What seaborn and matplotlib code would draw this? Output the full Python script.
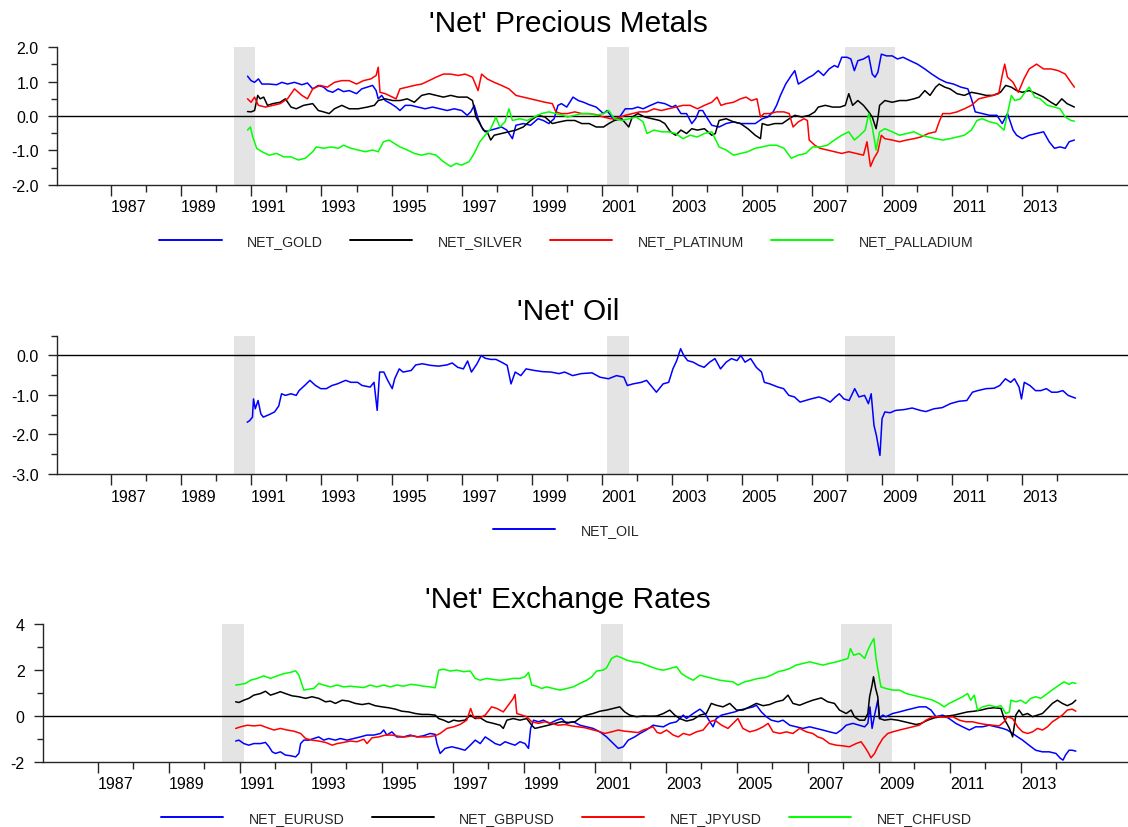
import matplotlib
matplotlib.use("Agg")
import matplotlib.pyplot as plt
import pandas as pd
import seaborn as sns
from matplotlib.ticker import FixedLocator, FormatStrFormatter, NullFormatter

# ---------------- data ----------------
GOLD_YR = [1990.89, 1990.99, 1991.09, 1991.20, 1991.30, 1991.51, 1991.72, 1991.87, 1992.03, 1992.23,
           1992.44, 1992.60, 1992.75, 1992.91, 1993.06, 1993.17, 1993.32, 1993.48, 1993.63, 1993.79,
           1994.00, 1994.15, 1994.31, 1994.46, 1994.56, 1994.62, 1994.72, 1994.82, 1994.98, 1995.13,
           1995.24, 1995.39, 1995.55, 1995.76, 1995.96, 1996.17, 1996.38, 1996.59, 1996.79, 1997.00,
           1997.16, 1997.26, 1997.36, 1997.47, 1997.57, 1997.67, 1997.83, 1997.98, 1998.14, 1998.29,
           1998.45, 1998.55, 1998.76, 1998.97, 1999.18, 1999.33, 1999.49, 1999.64, 1999.75, 1999.85,
           2000.00, 2000.18, 2000.33, 2000.48, 2000.64, 2000.84, 2001.05, 2001.15, 2001.36, 2001.51,
           2001.67, 2001.87, 2002.03, 2002.18, 2002.39, 2002.60, 2002.80, 2003.01, 2003.11, 2003.26,
           2003.42, 2003.57, 2003.68, 2003.78, 2003.88, 2003.99, 2004.14, 2004.35, 2004.55, 2004.76,
           2004.96, 2005.17, 2005.38, 2005.58, 2005.74, 2005.89, 2005.99, 2006.10, 2006.25, 2006.41,
           2006.51, 2006.61, 2006.77, 2006.92, 2007.02, 2007.18, 2007.33, 2007.49, 2007.64, 2007.74,
           2007.85, 2008.00, 2008.11, 2008.21, 2008.31, 2008.47, 2008.62, 2008.72, 2008.80, 2008.88,
           2008.98, 2009.13, 2009.29, 2009.44, 2009.60, 2009.80, 2010.01, 2010.22, 2010.42, 2010.63,
           2010.83, 2011.04, 2011.25, 2011.45, 2011.55, 2011.66, 2011.86, 2012.07, 2012.28, 2012.43,
           2012.58, 2012.74, 2012.84, 2013.00, 2013.20, 2013.41, 2013.61, 2013.77, 2013.92, 2014.08,
           2014.23, 2014.34, 2014.49]
GOLD_VAL = [1.16, 1.03, 0.98, 1.08, 0.93, 0.93, 0.91, 0.98, 0.93, 0.98,
            0.91, 0.96, 0.79, 0.89, 0.84, 0.74, 0.69, 0.79, 0.71, 0.74,
            0.65, 0.79, 0.84, 0.89, 0.74, 0.50, 0.60, 0.45, 0.36, 0.26,
            0.16, 0.31, 0.31, 0.26, 0.21, 0.26, 0.21, 0.16, 0.21, 0.16,
            0.02, 0.12, 0.31, -0.08, -0.32, -0.46, -0.41, -0.37, -0.32, -0.41,
            -0.66, -0.27, -0.22, -0.27, -0.08, -0.13, -0.22, -0.08, 0.31, 0.36,
            0.26, 0.55, 0.45, 0.40, 0.33, 0.26, 0.07, 0.16, -0.13, -0.03,
            0.21, 0.21, 0.26, 0.21, 0.31, 0.40, 0.36, 0.26, 0.31, 0.07,
            0.07, -0.22, -0.08, 0.16, 0.16, -0.03, -0.27, -0.32, -0.22, -0.17,
            -0.22, -0.22, -0.22, -0.08, -0.03, 0.12, 0.31, 0.60, 0.93, 1.18,
            1.32, 0.93, 1.03, 1.13, 1.18, 1.32, 1.18, 1.37, 1.47, 1.42,
            1.71, 1.71, 1.66, 1.32, 1.61, 1.66, 1.75, 1.22, 1.13, 1.27,
            1.80, 1.75, 1.75, 1.66, 1.71, 1.61, 1.51, 1.37, 1.22, 1.08,
            0.98, 0.93, 0.84, 0.79, 0.50, 0.12, 0.07, 0.02, 0.02, -0.22,
            0.07, -0.41, -0.56, -0.66, -0.56, -0.51, -0.46, -0.75, -0.94, -0.90,
            -0.94, -0.75, -0.70]

SILVER_YR = [1990.89, 1990.99, 1991.09, 1991.18, 1991.25, 1991.35, 1991.46, 1991.61, 1991.82, 1991.97,
             1992.13, 1992.28, 1992.49, 1992.75, 1992.91, 1993.06, 1993.22, 1993.37, 1993.58, 1993.79,
             1994.05, 1994.31, 1994.51, 1994.62, 1994.82, 1995.03, 1995.24, 1995.45, 1995.65, 1995.86,
             1996.07, 1996.27, 1996.48, 1996.69, 1996.90, 1997.16, 1997.31, 1997.41, 1997.52, 1997.62,
             1997.73, 1997.83, 1997.93, 1998.14, 1998.35, 1998.55, 1998.76, 1998.97, 1999.18, 1999.38,
             1999.59, 1999.80, 2000.00, 2000.23, 2000.43, 2000.64, 2000.84, 2001.05, 2001.20, 2001.36,
             2001.57, 2001.77, 2001.87, 2002.03, 2002.23, 2002.44, 2002.65, 2002.80, 2002.96, 2003.11,
             2003.26, 2003.42, 2003.57, 2003.73, 2003.93, 2004.14, 2004.24, 2004.35, 2004.55, 2004.76,
             2004.96, 2005.17, 2005.38, 2005.53, 2005.58, 2005.74, 2005.94, 2006.15, 2006.35, 2006.51,
             2006.71, 2006.92, 2007.08, 2007.18, 2007.38, 2007.59, 2007.80, 2007.95, 2008.05, 2008.16,
             2008.31, 2008.47, 2008.62, 2008.72, 2008.83, 2008.88, 2008.93, 2009.08, 2009.29, 2009.50,
             2009.70, 2009.91, 2010.06, 2010.22, 2010.37, 2010.53, 2010.63, 2010.79, 2010.94, 2011.14,
             2011.35, 2011.55, 2011.76, 2011.97, 2012.17, 2012.38, 2012.53, 2012.69, 2012.84, 2013.00,
             2013.20, 2013.41, 2013.61, 2013.82, 2013.97, 2014.13, 2014.28, 2014.49]
SILVER_VAL = [0.13, 0.12, 0.16, 0.60, 0.50, 0.55, 0.31, 0.36, 0.40, 0.50,
              0.26, 0.21, 0.31, 0.36, 0.16, 0.12, 0.07, 0.21, 0.31, 0.21,
              0.21, 0.26, 0.31, 0.45, 0.50, 0.45, 0.45, 0.50, 0.40, 0.60,
              0.65, 0.60, 0.55, 0.60, 0.55, 0.55, 0.45, -0.03, -0.22, -0.41,
              -0.46, -0.70, -0.56, -0.51, -0.46, -0.41, -0.32, -0.13, 0.02, -0.03,
              -0.22, -0.17, -0.13, -0.13, -0.22, -0.22, -0.32, -0.32, -0.22, -0.13,
              -0.08, -0.32, -0.03, 0.07, -0.03, -0.08, -0.13, -0.22, -0.46, -0.56,
              -0.41, -0.51, -0.37, -0.41, -0.37, -0.56, -0.51, -0.13, -0.08, -0.17,
              -0.22, -0.37, -0.56, -0.66, -0.22, -0.27, -0.22, -0.22, -0.08, 0.02,
              -0.03, 0.02, 0.12, 0.26, 0.31, 0.26, 0.26, 0.31, 0.65, 0.31,
              0.45, 0.31, 0.12, -0.03, -0.37, -0.08, 0.31, 0.45, 0.40, 0.45,
              0.45, 0.50, 0.55, 0.74, 0.60, 0.84, 0.93, 0.84, 0.79, 0.65,
              0.60, 0.69, 0.65, 0.60, 0.60, 0.69, 0.89, 0.84, 0.74, 0.69,
              0.74, 0.65, 0.55, 0.40, 0.31, 0.50, 0.36, 0.26]

PLAT_YR = [1990.89, 1990.99, 1991.09, 1991.20, 1991.40, 1991.61, 1991.82, 1992.03, 1992.23, 1992.44,
           1992.60, 1992.75, 1992.96, 1993.17, 1993.37, 1993.58, 1993.79, 1994.00, 1994.20, 1994.41,
           1994.56, 1994.62, 1994.67, 1994.82, 1995.03, 1995.13, 1995.24, 1995.45, 1995.65, 1995.86,
           1996.07, 1996.27, 1996.48, 1996.69, 1996.90, 1997.10, 1997.31, 1997.47, 1997.57, 1997.73,
           1997.93, 1998.14, 1998.35, 1998.55, 1998.76, 1998.97, 1999.18, 1999.38, 1999.59, 1999.69,
           1999.85, 2000.02, 2000.23, 2000.43, 2000.64, 2000.84, 2001.05, 2001.26, 2001.46, 2001.67,
           2001.87, 2002.08, 2002.29, 2002.49, 2002.70, 2002.90, 2003.11, 2003.32, 2003.52, 2003.73,
           2003.93, 2004.14, 2004.29, 2004.40, 2004.55, 2004.76, 2004.96, 2005.12, 2005.27, 2005.43,
           2005.53, 2005.63, 2005.79, 2005.99, 2006.20, 2006.35, 2006.46, 2006.61, 2006.77, 2006.87,
           2006.92, 2007.08, 2007.23, 2007.44, 2007.64, 2007.85, 2008.05, 2008.26, 2008.47, 2008.57,
           2008.67, 2008.77, 2008.88, 2008.98, 2009.08, 2009.29, 2009.50, 2009.70, 2009.91, 2010.11,
           2010.32, 2010.53, 2010.63, 2010.73, 2010.94, 2011.14, 2011.35, 2011.55, 2011.76, 2011.97,
           2012.17, 2012.33, 2012.43, 2012.50, 2012.58, 2012.74, 2012.89, 2013.05, 2013.20, 2013.41,
           2013.61, 2013.82, 2014.03, 2014.23, 2014.39, 2014.49]
PLAT_VAL = [0.50, 0.40, 0.55, 0.31, 0.26, 0.31, 0.36, 0.50, 0.79, 0.60,
            0.50, 0.79, 0.89, 0.84, 0.98, 1.03, 1.03, 0.93, 1.03, 1.08,
            1.18, 1.42, 0.69, 0.65, 0.55, 0.50, 0.79, 0.84, 0.89, 0.93,
            1.03, 1.13, 1.22, 1.22, 1.18, 1.22, 1.13, 0.74, 1.22, 1.08,
            0.98, 0.89, 0.79, 0.60, 0.55, 0.50, 0.45, 0.40, 0.36, 0.12,
            0.07, 0.07, 0.12, 0.07, 0.07, 0.04, -0.03, -0.08, -0.06, 0.02,
            0.07, 0.12, 0.12, 0.21, 0.16, 0.21, 0.26, 0.31, 0.31, 0.21,
            0.31, 0.40, 0.55, 0.31, 0.36, 0.40, 0.50, 0.55, 0.45, 0.50,
            -0.03, 0.07, 0.07, 0.12, 0.12, 0.07, -0.32, -0.17, -0.08, -0.13,
            -0.70, -0.85, -0.94, -0.99, -1.04, -1.09, -1.04, -1.09, -1.14, -0.75,
            -1.47, -1.23, -1.04, -0.56, -0.66, -0.70, -0.75, -0.70, -0.66, -0.61,
            -0.51, -0.46, -0.17, 0.07, 0.07, 0.12, 0.21, 0.31, 0.50, 0.55,
            0.60, 0.65, 1.18, 1.51, 1.13, 0.98, 0.69, 1.08, 1.37, 1.51,
            1.37, 1.37, 1.32, 1.22, 0.98, 0.84]

PALL_YR = [1990.89, 1990.97, 1991.04, 1991.15, 1991.30, 1991.51, 1991.72, 1991.92, 1992.13, 1992.34,
           1992.54, 1992.75, 1992.85, 1993.06, 1993.27, 1993.48, 1993.63, 1993.84, 1994.05, 1994.25,
           1994.46, 1994.62, 1994.77, 1994.93, 1995.08, 1995.24, 1995.45, 1995.65, 1995.86, 1996.07,
           1996.27, 1996.48, 1996.69, 1996.84, 1997.00, 1997.21, 1997.36, 1997.52, 1997.67, 1997.83,
           1997.98, 1998.09, 1998.24, 1998.35, 1998.45, 1998.66, 1998.87, 1999.07, 1999.28, 1999.49,
           1999.69, 1999.90, 2000.02, 2000.23, 2000.43, 2000.64, 2000.84, 2001.05, 2001.20, 2001.36,
           2001.57, 2001.77, 2001.98, 2002.18, 2002.29, 2002.49, 2002.70, 2002.90, 2003.11, 2003.32,
           2003.52, 2003.73, 2003.93, 2004.14, 2004.35, 2004.55, 2004.76, 2004.96, 2005.17, 2005.38,
           2005.58, 2005.79, 2005.99, 2006.20, 2006.41, 2006.61, 2006.82, 2007.02, 2007.23, 2007.44,
           2007.64, 2007.85, 2008.05, 2008.21, 2008.37, 2008.52, 2008.62, 2008.72, 2008.83, 2008.93,
           2009.08, 2009.29, 2009.50, 2009.70, 2009.91, 2010.11, 2010.32, 2010.53, 2010.73, 2010.94,
           2011.14, 2011.35, 2011.55, 2011.71, 2011.86, 2012.07, 2012.28, 2012.48, 2012.58, 2012.69,
           2012.79, 2012.95, 2013.05, 2013.20, 2013.36, 2013.51, 2013.72, 2013.92, 2014.08, 2014.23,
           2014.39, 2014.49]
PALL_VAL = [-0.41, -0.32, -0.61, -0.94, -1.04, -1.14, -1.09, -1.19, -1.19, -1.28,
            -1.23, -1.04, -0.90, -0.94, -0.90, -0.94, -0.85, -0.94, -0.99, -1.04,
            -0.99, -1.04, -0.75, -0.70, -0.80, -0.90, -0.99, -1.09, -1.14, -1.09,
            -1.14, -1.33, -1.47, -1.38, -1.43, -1.33, -1.09, -0.75, -0.56, -0.37,
            -0.03, -0.32, -0.17, 0.21, -0.13, -0.08, -0.13, -0.03, 0.07, 0.12,
            0.07, 0.02, -0.03, 0.02, 0.07, 0.07, 0.02, 0.07, 0.16, -0.08,
            -0.13, -0.08, -0.03, -0.17, -0.51, -0.41, -0.46, -0.46, -0.51, -0.66,
            -0.56, -0.61, -0.51, -0.46, -0.90, -0.99, -1.14, -1.09, -1.04, -0.94,
            -0.90, -0.85, -0.85, -0.94, -1.23, -1.14, -1.09, -0.90, -0.90, -0.85,
            -0.70, -0.56, -0.46, -0.70, -0.56, -0.41, 0.07, -0.32, -0.99, -0.46,
            -0.37, -0.46, -0.56, -0.51, -0.46, -0.56, -0.61, -0.66, -0.70, -0.66,
            -0.61, -0.56, -0.41, -0.13, -0.08, -0.17, -0.22, -0.41, 0.07, 0.60,
            0.45, 0.50, 0.65, 0.84, 0.55, 0.50, 0.31, 0.26, 0.21, -0.03,
            -0.13, -0.15]

OIL_YR = [1990.88, 1990.95, 1991.03, 1991.06, 1991.11, 1991.19, 1991.27, 1991.34, 1991.50, 1991.66,
          1991.78, 1991.86, 1991.97, 1992.13, 1992.28, 1992.36, 1992.52, 1992.67, 1992.83, 1992.98,
          1993.14, 1993.30, 1993.45, 1993.69, 1993.84, 1994.03, 1994.16, 1994.39, 1994.50, 1994.59,
          1994.66, 1994.78, 1994.89, 1995.02, 1995.09, 1995.22, 1995.33, 1995.56, 1995.69, 1995.88,
          1996.11, 1996.34, 1996.58, 1996.73, 1996.89, 1997.05, 1997.17, 1997.28, 1997.44, 1997.56,
          1997.67, 1997.83, 1997.98, 1998.14, 1998.30, 1998.41, 1998.53, 1998.69, 1998.84, 1999.08,
          1999.31, 1999.55, 1999.78, 1999.94, 2000.17, 2000.41, 2000.72, 2000.95, 2001.19, 2001.42,
          2001.63, 2001.73, 2001.89, 2002.13, 2002.28, 2002.44, 2002.56, 2002.75, 2002.91, 2003.03,
          2003.14, 2003.25, 2003.34, 2003.45, 2003.61, 2003.77, 2003.92, 2004.08, 2004.23, 2004.39,
          2004.55, 2004.70, 2004.86, 2004.97, 2005.09, 2005.25, 2005.41, 2005.56, 2005.64, 2005.80,
          2006.03, 2006.19, 2006.34, 2006.50, 2006.66, 2006.81, 2006.97, 2007.20, 2007.36, 2007.52,
          2007.67, 2007.78, 2007.91, 2008.06, 2008.22, 2008.34, 2008.50, 2008.61, 2008.69, 2008.77,
          2008.84, 2008.94, 2009.00, 2009.08, 2009.23, 2009.39, 2009.63, 2009.86, 2010.09, 2010.25,
          2010.48, 2010.72, 2010.95, 2011.19, 2011.42, 2011.58, 2011.73, 2011.97, 2012.20, 2012.36,
          2012.52, 2012.67, 2012.78, 2012.91, 2012.98, 2013.06, 2013.22, 2013.38, 2013.53, 2013.69,
          2013.84, 2014.00, 2014.16, 2014.31, 2014.52]
OIL_VAL = [-1.69, -1.65, -1.56, -1.10, -1.35, -1.14, -1.48, -1.56, -1.50, -1.43,
           -1.28, -0.97, -1.01, -0.97, -1.01, -0.89, -0.76, -0.63, -0.76, -0.84,
           -0.84, -0.76, -0.72, -0.63, -0.68, -0.68, -0.76, -0.80, -0.68, -1.39,
           -0.42, -0.42, -0.63, -0.84, -0.59, -0.34, -0.42, -0.38, -0.24, -0.21,
           -0.25, -0.27, -0.24, -0.19, -0.30, -0.34, -0.14, -0.42, -0.21, 0.00,
           -0.07, -0.10, -0.10, -0.17, -0.25, -0.72, -0.42, -0.51, -0.34, -0.38,
           -0.41, -0.42, -0.46, -0.42, -0.51, -0.46, -0.44, -0.55, -0.59, -0.51,
           -0.55, -0.76, -0.72, -0.68, -0.63, -0.80, -0.93, -0.72, -0.68, -0.34,
           -0.13, 0.17, 0.00, -0.13, -0.17, -0.25, -0.30, -0.17, -0.08, -0.34,
           -0.17, -0.08, -0.13, 0.00, -0.17, -0.08, -0.30, -0.42, -0.68, -0.72,
           -0.80, -0.84, -1.01, -1.05, -1.18, -1.14, -1.10, -1.05, -1.10, -1.18,
           -1.05, -0.97, -1.10, -1.14, -0.84, -1.05, -1.01, -1.22, -0.97, -1.77,
           -2.03, -2.53, -1.60, -1.43, -1.45, -1.39, -1.37, -1.33, -1.39, -1.42,
           -1.35, -1.32, -1.22, -1.16, -1.14, -0.93, -0.89, -0.84, -0.83, -0.76,
           -0.59, -0.68, -0.59, -0.80, -1.10, -0.68, -0.76, -0.89, -0.89, -0.84,
           -0.93, -0.93, -0.89, -1.01, -1.08]

EUR_YR = [1990.88, 1990.97, 1991.11, 1991.25, 1991.39, 1991.58, 1991.72, 1991.82, 1991.91, 1992.00,
          1992.14, 1992.28, 1992.42, 1992.57, 1992.66, 1992.71, 1992.80, 1992.94, 1993.08, 1993.22,
          1993.36, 1993.50, 1993.69, 1993.83, 1994.02, 1994.21, 1994.39, 1994.58, 1994.77, 1994.96,
          1995.05, 1995.14, 1995.28, 1995.42, 1995.61, 1995.80, 1995.99, 1996.17, 1996.36, 1996.50,
          1996.55, 1996.64, 1996.78, 1996.97, 1997.16, 1997.34, 1997.49, 1997.63, 1997.77, 1997.91,
          1998.05, 1998.19, 1998.33, 1998.47, 1998.61, 1998.75, 1998.89, 1999.03, 1999.13, 1999.19,
          1999.27, 1999.41, 1999.55, 1999.73, 1999.92, 2000.06, 2000.20, 2000.39, 2000.58, 2000.77,
          2000.95, 2001.14, 2001.33, 2001.52, 2001.66, 2001.80, 2001.94, 2002.12, 2002.27, 2002.45,
          2002.64, 2002.78, 2002.93, 2003.11, 2003.30, 2003.49, 2003.58, 2003.77, 2003.96, 2004.10,
          2004.24, 2004.33, 2004.42, 2004.57, 2004.75, 2004.94, 2005.08, 2005.27, 2005.46, 2005.55,
          2005.69, 2005.83, 2005.97, 2006.16, 2006.30, 2006.49, 2006.67, 2006.86, 2007.05, 2007.24,
          2007.42, 2007.61, 2007.80, 2007.94, 2008.08, 2008.27, 2008.45, 2008.60, 2008.69, 2008.75,
          2008.81, 2008.88, 2008.97, 2009.02, 2009.11, 2009.20, 2009.39, 2009.58, 2009.77, 2009.95,
          2010.14, 2010.33, 2010.47, 2010.61, 2010.80, 2010.98, 2011.17, 2011.36, 2011.55, 2011.73,
          2011.92, 2012.11, 2012.30, 2012.49, 2012.62, 2012.77, 2012.91, 2013.05, 2013.23, 2013.42,
          2013.61, 2013.80, 2013.99, 2014.12, 2014.19, 2014.26, 2014.36, 2014.45, 2014.55]
EUR_VAL = [-1.10, -1.06, -1.21, -1.28, -1.21, -1.21, -1.16, -1.35, -1.57, -1.64,
           -1.57, -1.71, -1.74, -1.79, -1.64, -1.21, -1.06, -1.06, -0.99, -0.92,
           -1.06, -0.99, -1.06, -0.99, -1.06, -0.99, -0.92, -0.84, -0.84, -0.77,
           -0.62, -0.84, -0.70, -0.92, -0.92, -0.84, -0.92, -0.87, -0.77, -0.81,
           -1.21, -1.64, -1.42, -1.35, -1.42, -1.50, -1.28, -1.06, -1.21, -0.92,
           -1.06, -1.21, -1.28, -1.13, -1.21, -1.28, -1.13, -1.21, -1.42, -0.55,
           -0.19, -0.26, -0.19, -0.33, -0.19, -0.12, -0.33, -0.26, -0.41, -0.48,
           -0.55, -0.70, -0.92, -1.21, -1.42, -1.35, -1.06, -0.92, -0.77, -0.62,
           -0.41, -0.45, -0.48, -0.33, -0.26, 0.03, -0.12, 0.10, 0.29, 0.10,
           -0.26, -0.48, -0.12, 0.03, 0.10, 0.17, 0.25, 0.32, 0.39, 0.46,
           0.17, -0.04, -0.19, -0.26, -0.19, -0.41, -0.48, -0.55, -0.48, -0.55,
           -0.62, -0.70, -0.77, -0.62, -0.41, -0.33, -0.41, -0.48, -0.33, 0.39,
           -0.55, 0.03, 0.68, -0.12, 0.03, -0.04, 0.10, 0.17, 0.25, 0.32,
           0.39, 0.39, 0.25, -0.04, 0.03, -0.12, -0.33, -0.48, -0.62, -0.48,
           -0.48, -0.41, -0.48, -0.55, -0.62, -0.77, -0.92, -1.06, -1.28, -1.50,
           -1.57, -1.57, -1.64, -1.86, -1.93, -1.71, -1.50, -1.50, -1.54]

GBP_YR = [1990.88, 1990.97, 1991.11, 1991.25, 1991.39, 1991.58, 1991.72, 1991.86, 1992.00, 1992.14,
          1992.28, 1992.47, 1992.66, 1992.85, 1993.03, 1993.22, 1993.41, 1993.55, 1993.69, 1993.88,
          1994.06, 1994.25, 1994.44, 1994.63, 1994.81, 1995.00, 1995.19, 1995.38, 1995.56, 1995.75,
          1995.94, 1996.13, 1996.31, 1996.50, 1996.60, 1996.74, 1996.88, 1997.02, 1997.16, 1997.34,
          1997.49, 1997.63, 1997.77, 1997.95, 1998.14, 1998.33, 1998.42, 1998.52, 1998.70, 1998.89,
          1999.08, 1999.22, 1999.31, 1999.50, 1999.69, 1999.88, 2000.06, 2000.25, 2000.44, 2000.63,
          2000.77, 2000.95, 2001.14, 2001.33, 2001.52, 2001.70, 2001.84, 2001.98, 2002.17, 2002.36,
          2002.55, 2002.74, 2002.93, 2003.11, 2003.25, 2003.39, 2003.58, 2003.77, 2003.96, 2004.14,
          2004.28, 2004.42, 2004.61, 2004.80, 2004.99, 2005.17, 2005.36, 2005.55, 2005.74, 2005.92,
          2006.11, 2006.30, 2006.44, 2006.58, 2006.77, 2006.96, 2007.14, 2007.38, 2007.56, 2007.75,
          2007.89, 2008.08, 2008.22, 2008.31, 2008.45, 2008.60, 2008.69, 2008.74, 2008.81, 2008.85,
          2008.91, 2008.97, 2009.02, 2009.16, 2009.34, 2009.53, 2009.72, 2009.91, 2010.05, 2010.19,
          2010.38, 2010.56, 2010.75, 2010.94, 2011.12, 2011.31, 2011.50, 2011.69, 2011.88, 2012.06,
          2012.25, 2012.44, 2012.53, 2012.68, 2012.77, 2012.86, 2012.95, 2013.05, 2013.19, 2013.33,
          2013.47, 2013.61, 2013.75, 2013.89, 2014.03, 2014.17, 2014.31, 2014.45, 2014.55]
GBP_VAL = [0.61, 0.58, 0.68, 0.76, 0.90, 0.97, 1.07, 0.90, 0.97, 1.05,
           0.97, 0.87, 0.83, 0.76, 0.83, 0.76, 0.61, 0.64, 0.54, 0.68,
           0.64, 0.54, 0.49, 0.54, 0.44, 0.39, 0.35, 0.29, 0.20, 0.17,
           0.10, 0.06, 0.06, 0.03, -0.12, -0.19, -0.29, -0.19, -0.23, -0.19,
           0.03, -0.12, -0.09, -0.26, -0.33, -0.41, -0.55, -0.19, -0.12, -0.19,
           -0.12, -0.41, -0.55, -0.48, -0.41, -0.33, -0.26, -0.29, -0.26, -0.04,
           0.03, 0.10, 0.20, 0.25, 0.32, 0.39, 0.17, 0.03, -0.04, -0.01,
           -0.02, -0.01, 0.10, 0.25, 0.03, -0.12, -0.23, -0.16, 0.03, 0.10,
           0.54, 0.46, 0.39, 0.54, 0.25, 0.25, 0.39, 0.54, 0.44, 0.49,
           0.61, 0.68, 0.90, 0.54, 0.46, 0.58, 0.68, 0.78, 0.61, 0.54,
           0.25, 0.10, 0.25, -0.04, -0.19, -0.19, 0.10, 0.83, 1.34, 1.70,
           1.19, 0.83, -0.12, -0.19, -0.15, -0.19, -0.26, -0.33, -0.38, -0.33,
           -0.19, -0.09, -0.04, -0.01, 0.03, 0.10, 0.17, 0.20, 0.25, 0.32,
           0.35, 0.32, -0.12, -0.55, -0.92, 0.03, 0.25, 0.03, 0.10, -0.04,
           0.03, 0.10, 0.32, 0.54, 0.68, 0.54, 0.44, 0.54, 0.68]

JPY_YR = [1990.88, 1991.02, 1991.21, 1991.39, 1991.58, 1991.77, 1991.96, 1992.14, 1992.33, 1992.52,
          1992.71, 1992.85, 1993.03, 1993.22, 1993.41, 1993.60, 1993.74, 1993.92, 1994.11, 1994.30,
          1994.49, 1994.58, 1994.72, 1994.91, 1995.10, 1995.28, 1995.47, 1995.66, 1995.85, 1996.03,
          1996.27, 1996.50, 1996.64, 1996.83, 1997.02, 1997.20, 1997.39, 1997.50, 1997.58, 1997.72,
          1997.91, 1998.09, 1998.24, 1998.42, 1998.56, 1998.70, 1998.75, 1998.80, 1998.94, 1999.08,
          1999.22, 1999.41, 1999.59, 1999.78, 1999.97, 2000.16, 2000.34, 2000.53, 2000.72, 2000.91,
          2001.09, 2001.28, 2001.47, 2001.66, 2001.84, 2002.03, 2002.22, 2002.36, 2002.50, 2002.64,
          2002.75, 2002.85, 2003.02, 2003.21, 2003.35, 2003.49, 2003.67, 2003.86, 2004.05, 2004.24,
          2004.38, 2004.57, 2004.75, 2004.94, 2005.03, 2005.17, 2005.36, 2005.55, 2005.74, 2005.88,
          2006.02, 2006.21, 2006.39, 2006.58, 2006.77, 2006.96, 2007.14, 2007.28, 2007.42, 2007.61,
          2007.80, 2007.99, 2008.17, 2008.36, 2008.50, 2008.60, 2008.69, 2008.78, 2008.88, 2008.97,
          2009.11, 2009.25, 2009.39, 2009.58, 2009.77, 2009.95, 2010.14, 2010.33, 2010.52, 2010.70,
          2010.89, 2011.08, 2011.27, 2011.45, 2011.64, 2011.83, 2012.02, 2012.21, 2012.39, 2012.53,
          2012.62, 2012.77, 2012.91, 2013.05, 2013.19, 2013.33, 2013.47, 2013.61, 2013.75, 2013.89,
          2014.03, 2014.17, 2014.31, 2014.45, 2014.55]
JPY_VAL = [-0.55, -0.48, -0.41, -0.44, -0.41, -0.52, -0.62, -0.55, -0.62, -0.67,
           -0.77, -0.99, -1.06, -1.10, -1.16, -1.28, -1.21, -1.16, -1.10, -1.13,
           -1.02, -1.21, -0.96, -0.92, -0.84, -0.84, -0.89, -0.92, -0.87, -0.92,
           -0.92, -0.87, -0.77, -0.55, -0.48, -0.38, -0.19, 0.32, -0.04, -0.12,
           0.03, 0.39, 0.32, 0.17, 0.46, 0.76, 0.93, 0.10, 0.03, -0.04,
           -0.26, -0.33, -0.26, -0.33, -0.41, -0.38, -0.44, -0.48, -0.52, -0.60,
           -0.67, -0.77, -0.70, -0.62, -0.67, -0.70, -0.73, -0.62, -0.55, -0.48,
           -0.72, -0.77, -0.62, -0.84, -0.92, -0.77, -0.84, -0.70, -0.62, -0.26,
           -0.19, -0.41, -0.55, -0.26, -0.12, -0.55, -0.70, -0.62, -0.48, -0.33,
           -0.70, -0.77, -0.70, -0.77, -0.55, -0.70, -0.77, -0.92, -0.99, -1.21,
           -1.28, -1.31, -1.35, -1.21, -1.13, -1.35, -1.57, -1.83, -1.64, -1.35,
           -0.99, -0.77, -0.70, -0.62, -0.55, -0.48, -0.41, -0.19, -0.04, -0.04,
           -0.07, -0.04, -0.19, -0.26, -0.26, -0.33, -0.38, -0.41, -0.44, -0.26,
           -0.04, -0.12, -0.48, -0.70, -0.77, -0.70, -0.55, -0.62, -0.48, -0.26,
           -0.12, 0.03, 0.25, 0.29, 0.20]

CHF_YR = [1990.88, 1991.02, 1991.16, 1991.30, 1991.49, 1991.67, 1991.86, 1992.05, 1992.24, 1992.42,
          1992.57, 1992.66, 1992.80, 1992.94, 1993.08, 1993.22, 1993.36, 1993.55, 1993.74, 1993.92,
          1994.11, 1994.30, 1994.49, 1994.67, 1994.86, 1995.05, 1995.24, 1995.42, 1995.61, 1995.80,
          1995.99, 1996.17, 1996.36, 1996.50, 1996.60, 1996.74, 1996.92, 1997.11, 1997.30, 1997.49,
          1997.63, 1997.77, 1997.95, 1998.14, 1998.33, 1998.52, 1998.70, 1998.89, 1999.03, 1999.13,
          1999.22, 1999.36, 1999.50, 1999.64, 1999.83, 2000.02, 2000.20, 2000.39, 2000.58, 2000.77,
          2000.91, 2001.05, 2001.23, 2001.33, 2001.47, 2001.61, 2001.75, 2001.89, 2002.08, 2002.27,
          2002.45, 2002.64, 2002.80, 2002.93, 2003.11, 2003.30, 2003.44, 2003.58, 2003.77, 2003.96,
          2004.14, 2004.33, 2004.52, 2004.71, 2004.89, 2005.03, 2005.22, 2005.41, 2005.60, 2005.78,
          2005.97, 2006.16, 2006.35, 2006.49, 2006.67, 2006.86, 2007.05, 2007.24, 2007.42, 2007.61,
          2007.80, 2007.99, 2008.13, 2008.20, 2008.29, 2008.45, 2008.60, 2008.69, 2008.78, 2008.86,
          2008.92, 2009.00, 2009.06, 2009.20, 2009.39, 2009.58, 2009.77, 2009.95, 2010.14, 2010.33,
          2010.52, 2010.70, 2010.84, 2010.98, 2011.17, 2011.36, 2011.50, 2011.59, 2011.69, 2011.78,
          2011.92, 2012.11, 2012.30, 2012.44, 2012.58, 2012.68, 2012.72, 2012.86, 2013.00, 2013.14,
          2013.28, 2013.42, 2013.56, 2013.75, 2013.94, 2014.08, 2014.22, 2014.36, 2014.45, 2014.55]
CHF_VAL = [1.34, 1.37, 1.41, 1.55, 1.63, 1.74, 1.63, 1.74, 1.84, 1.89,
           1.96, 1.77, 1.12, 1.16, 1.19, 1.41, 1.34, 1.26, 1.34, 1.26,
           1.29, 1.26, 1.23, 1.34, 1.26, 1.34, 1.26, 1.34, 1.29, 1.37,
           1.34, 1.29, 1.26, 1.22, 1.99, 2.03, 1.95, 1.99, 1.92, 1.95,
           1.63, 1.55, 1.63, 1.58, 1.55, 1.58, 1.63, 1.63, 1.70, 1.89,
           1.34, 1.29, 1.19, 1.26, 1.19, 1.12, 1.19, 1.26, 1.41, 1.55,
           1.70, 1.95, 1.99, 2.09, 2.50, 2.61, 2.53, 2.43, 2.35, 2.32,
           2.21, 2.10, 2.02, 1.99, 2.06, 2.14, 1.84, 1.70, 1.55, 1.77,
           1.70, 1.63, 1.55, 1.51, 1.48, 1.34, 1.48, 1.55, 1.63, 1.66,
           1.77, 1.92, 1.99, 2.06, 2.21, 2.28, 2.35, 2.28, 2.21, 2.28,
           2.35, 2.43, 2.50, 2.93, 2.64, 2.72, 2.50, 2.86, 3.15, 3.37,
           2.50, 1.77, 1.26, 1.19, 1.12, 1.12, 0.97, 0.90, 0.83, 0.76,
           0.68, 0.54, 0.39, 0.54, 0.68, 0.83, 0.97, 0.68, 0.90, 0.25,
           0.39, 0.46, 0.39, 0.44, 0.10, 0.17, 0.68, 0.61, 0.68, 0.54,
           0.76, 0.83, 0.76, 0.97, 1.19, 1.34, 1.48, 1.37, 1.45, 1.41]

METAL_NAMES = ["NET_GOLD", "NET_SILVER", "NET_PLATINUM", "NET_PALLADIUM"]
OIL_NAMES = ["NET_OIL"]
FX_NAMES = ["NET_EURUSD", "NET_GBPUSD", "NET_JPYUSD", "NET_CHFUSD"]
TITLES = ["'Net' Precious Metals", "'Net' Oil", "'Net' Exchange Rates"]
RECESSIONS = [(1990.49, 1991.11), (2001.16, 2001.78), (2007.93, 2009.37)]
LABEL_YEARS = list(range(1987, 2014, 2))

# ---------------- styling ----------------
sns.set_theme(style="white")
plt.rcParams['font.family'] = ['Liberation Sans', 'DejaVu Sans']
plt.rcParams['axes.unicode_minus'] = False

COLORS4 = ["#0000ff", "#000000", "#ff0000", "#00ff00"]
W, H = 1128.0, 828.0
XMIN, XMAX = 1985.46, 2016.02


def long_frame(names, pairs):
    parts = []
    for name, (xs, ys) in zip(names, pairs):
        parts.append(pd.DataFrame({"year": xs, "value": ys, "series": name}))
    return pd.concat(parts, ignore_index=True)


def make_axes(fig, left_px, top_px, bottom_px):
    return fig.add_axes([left_px / W, 1 - bottom_px / H, 1 - left_px / W, (bottom_px - top_px) / H])


def style_axis(ax, ylim, major, minor, fmt):
    ax.set_xlim(XMIN, XMAX)
    ax.set_ylim(*ylim)
    for s in ["top", "right"]:
        ax.spines[s].set_visible(False)
    for s in ["left", "bottom"]:
        ax.spines[s].set_color("#262626")
        ax.spines[s].set_linewidth(1.0)
    ax.xaxis.set_major_locator(FixedLocator(list(range(1987, 2015, 2))))
    ax.xaxis.set_minor_locator(FixedLocator(list(range(1988, 2015, 2))))
    ax.xaxis.set_major_formatter(NullFormatter())
    ax.yaxis.set_major_locator(FixedLocator(major))
    ax.yaxis.set_minor_locator(FixedLocator(minor))
    ax.yaxis.set_major_formatter(FormatStrFormatter(fmt))
    ax.tick_params(axis="x", which="major", bottom=True, direction="out", length=8, width=1.0, color="#262626")
    ax.tick_params(axis="x", which="minor", bottom=True, direction="out", length=5, width=1.0, color="#262626")
    ax.tick_params(axis="y", which="major", left=True, direction="out", length=6.5, width=1.0,
                   color="#262626", labelsize=11.5, pad=7, labelcolor="black")
    ax.tick_params(axis="y", which="minor", left=True, direction="out", length=4, width=1.0, color="#262626")
    ax.grid(False)
    ax.axhline(0, color="black", lw=1.0, zorder=1)
    for a, b in RECESSIONS:
        ax.axvspan(a, b, color="#e4e4e4", lw=0, zorder=0)
    for yr in LABEL_YEARS:
        ax.annotate(str(yr), xy=(yr + 0.5, 0), xycoords=("data", "axes fraction"),
                    xytext=(0, -10.5), textcoords="offset points",
                    ha="center", va="top", fontsize=11.5, color="black")


def draw_panel(fig, ax, df, names, colors, title, title_y, legend_y):
    sns.lineplot(data=df, x="year", y="value", hue="series", hue_order=names,
                 palette=colors, estimator=None, sort=False, lw=1.1, ax=ax, legend=True, zorder=3)
    handles, labels = ax.get_legend_handles_labels()
    ax.get_legend().remove()
    ax.set_xlabel("")
    ax.set_ylabel("")
    ax.set_xlim(XMIN, XMAX)
    for h in handles:
        h.set_linewidth(1.4)
    fig.legend(handles, labels, loc="center", bbox_to_anchor=(0.502, legend_y), ncol=len(names),
               frameon=False, fontsize=10.2, handlelength=4.4, handletextpad=1.8, columnspacing=1.9)
    fig.text(0.5035, title_y, title, ha="center", va="baseline", fontsize=21.5, color="black")


fig = plt.figure(figsize=(11.28, 8.28), dpi=100)

# Panel 1: precious metals
ax1 = make_axes(fig, 57.3, 48.3, 185.7)
df1 = long_frame(METAL_NAMES, [(GOLD_YR, GOLD_VAL), (SILVER_YR, SILVER_VAL),
                               (PLAT_YR, PLAT_VAL), (PALL_YR, PALL_VAL)])
style_axis(ax1, (-2.0, 2.0), [-2, -1, 0, 1, 2], [-1.5, -0.5, 0.5, 1.5], "%.1f")
draw_panel(fig, ax1, df1, METAL_NAMES, COLORS4, TITLES[0], 1 - 31.7 / H, 1 - 242 / H)

# Panel 2: oil
ax2 = make_axes(fig, 57.3, 336.7, 475.0)
df2 = long_frame(OIL_NAMES, [(OIL_YR, OIL_VAL)])
style_axis(ax2, (-3.0, 0.5), [-3, -2, -1, 0], [-2.5, -1.5, -0.5, 0.5], "%.1f")
draw_panel(fig, ax2, df2, OIL_NAMES, ["#0000ff"], TITLES[1], 1 - 320.1 / H, 1 - 531 / H)

# Panel 3: exchange rates
ax3 = make_axes(fig, 43.3, 625.0, 762.7)
df3 = long_frame(FX_NAMES, [(EUR_YR, EUR_VAL), (GBP_YR, GBP_VAL), (JPY_YR, JPY_VAL), (CHF_YR, CHF_VAL)])
style_axis(ax3, (-2, 4), [-2, 0, 2, 4], [-1, 1, 3], "%d")
draw_panel(fig, ax3, df3, FX_NAMES, COLORS4, TITLES[2], 1 - 608.4 / H, 1 - 819 / H)

fig.savefig("out.png", dpi=100)
